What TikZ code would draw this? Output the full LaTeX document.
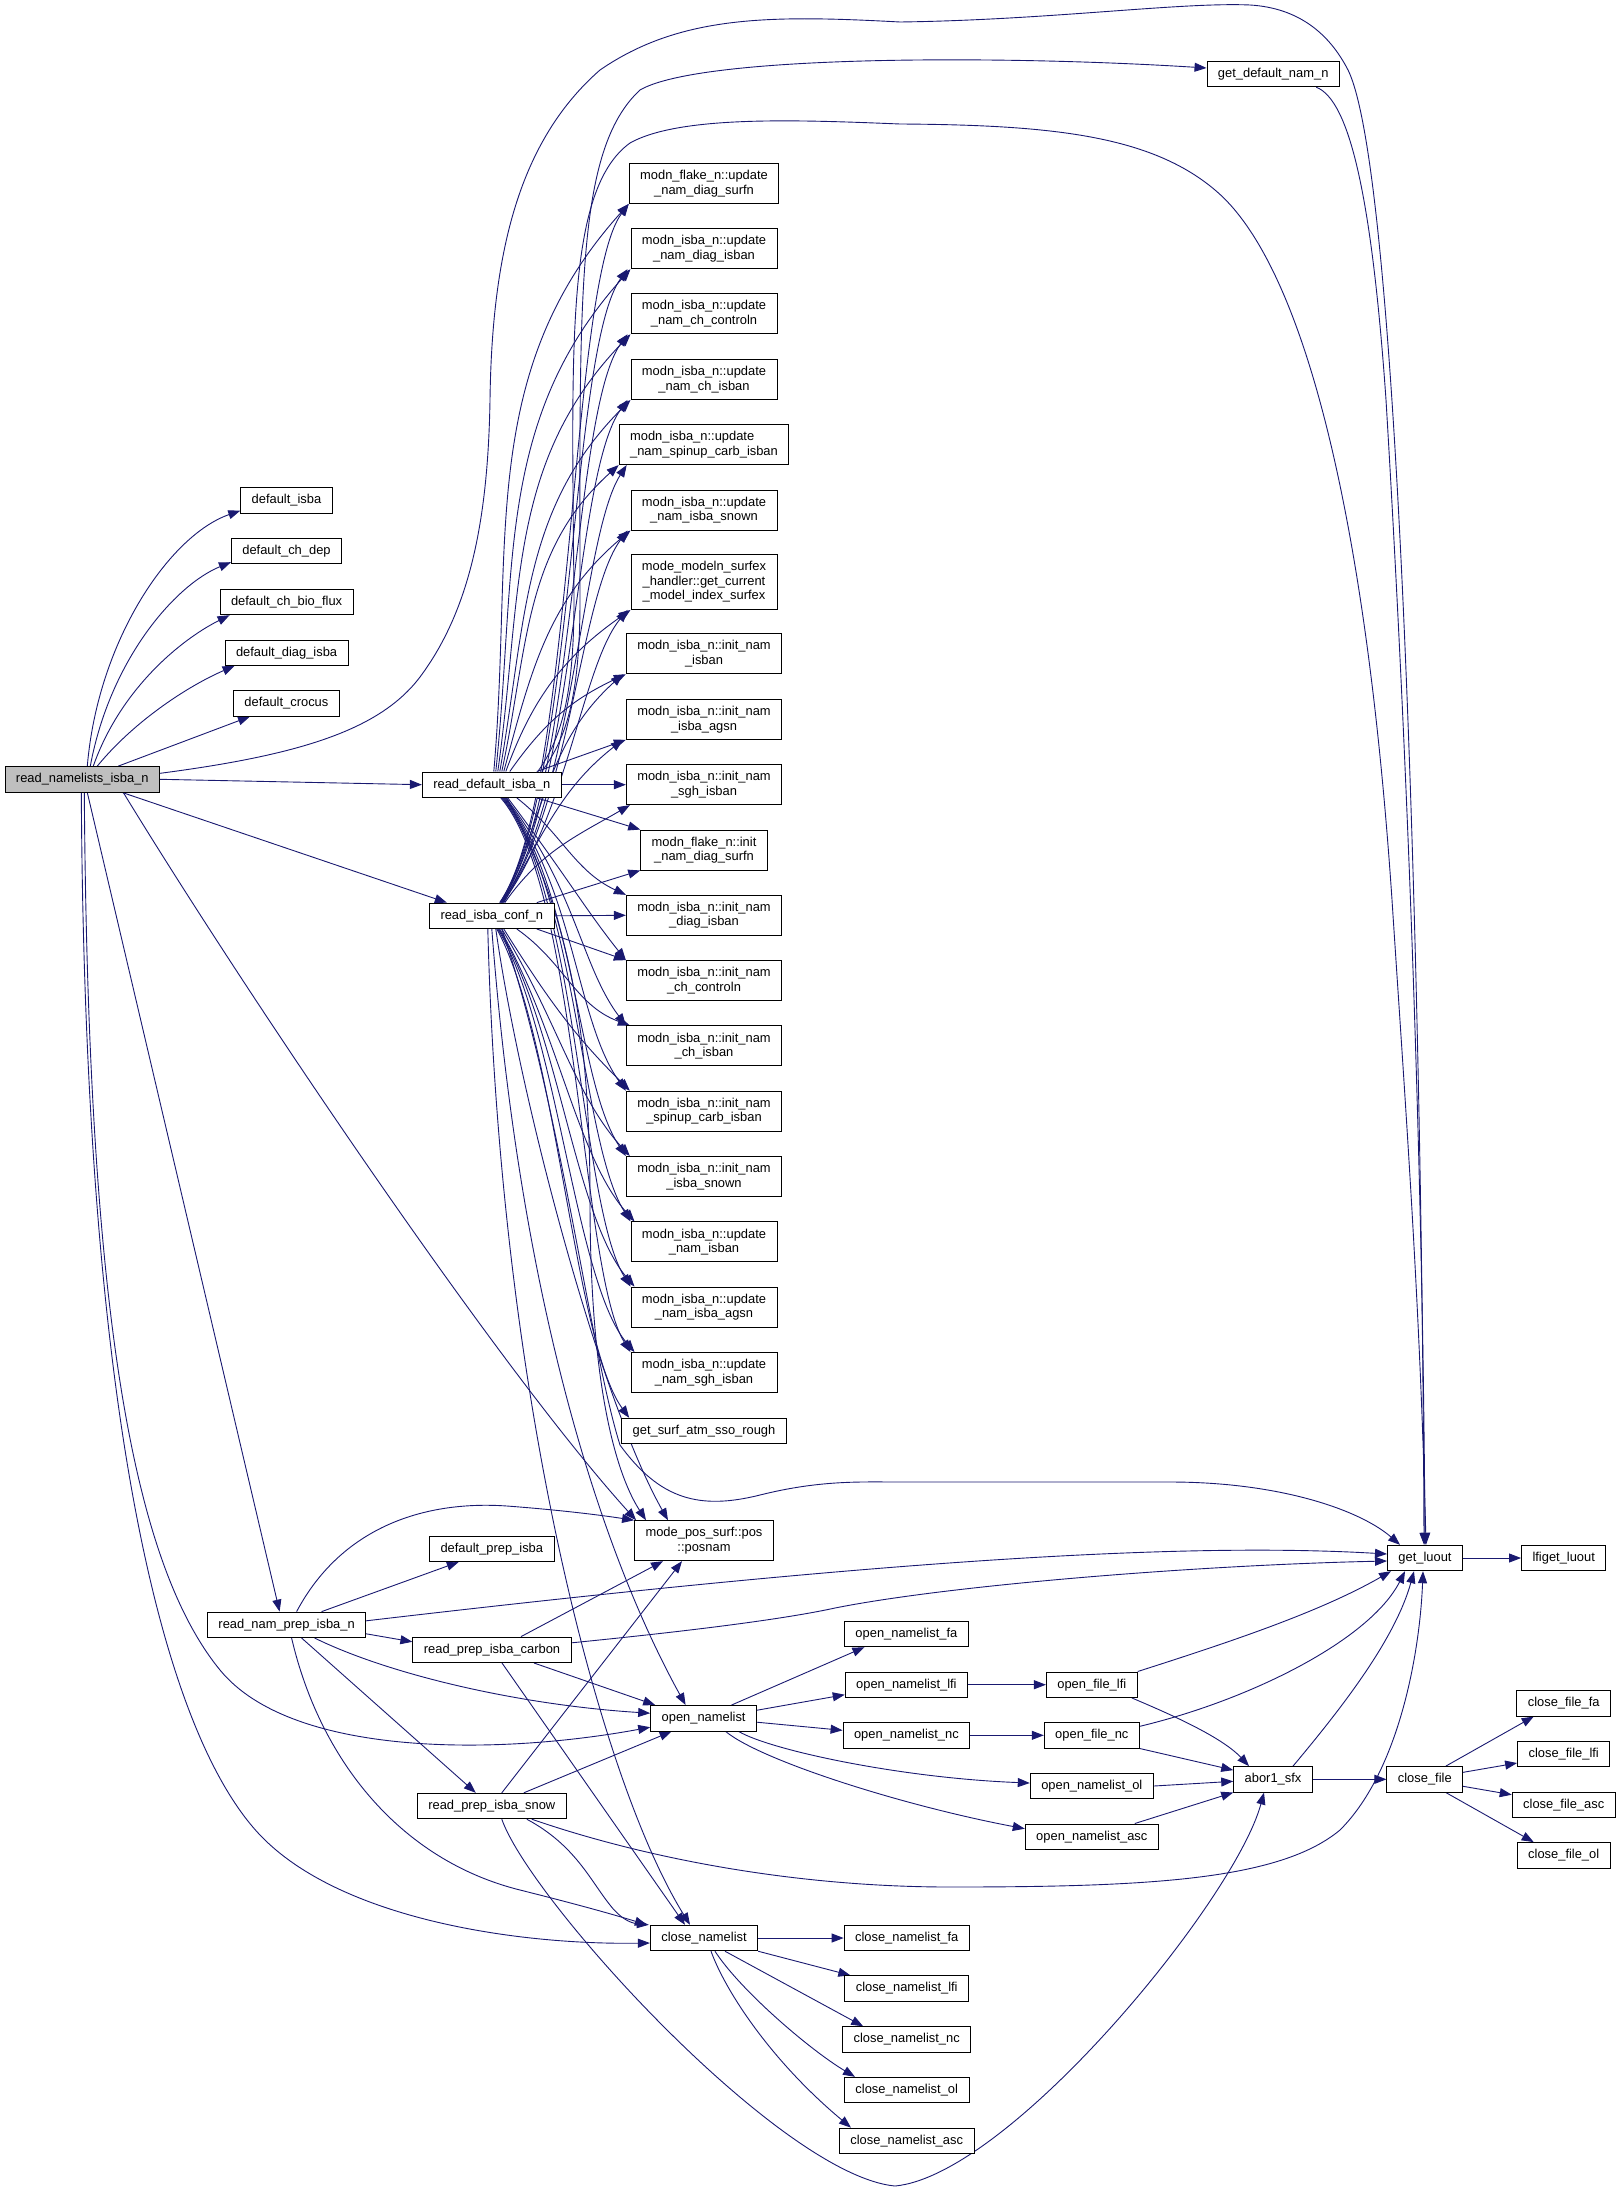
\documentclass[tikz,border=0pt]{standalone}
\usepackage{fontspec}
\setmainfont{Liberation Sans}
\usepackage{tikz}
\usetikzlibrary{arrows.meta,backgrounds}
\definecolor{edgeblue}{RGB}{25,25,112}
\definecolor{rootgray}{RGB}{191,191,191}
\tikzset{
  func/.style={draw=black, fill=white, rectangle, line width=0.9pt, font=\fontsize{12.9pt}{14.6pt}\selectfont, inner xsep=11pt, inner ysep=1pt, minimum height=25.5pt, align=center},
  func2/.style={func, minimum height=40pt},
  func3/.style={func, minimum height=55pt},
  root/.style={func, fill=rootgray},
  call/.style={draw=edgeblue, line width=0.9pt, -{Triangle[length=12pt,width=9pt]}}
}

\begin{document}
\begin{tikzpicture}[x=1pt,y=1pt]
    \useasboundingbox (0,0) rectangle (1621,-2191);

    \node[root] (rnl) at (82.3,-779.3) {read\_namelists\_isba\_n};

    \node[func] (dflt_isba) at (286.5,-500.5) {default\_isba};
    \node[func] (dflt_chdep) at (286.5,-551) {default\_ch\_dep};
    \node[func] (dflt_chbio) at (286.6,-602) {default\_ch\_bio\_flux};
    \node[func] (dflt_diag) at (286.6,-652.7) {default\_diag\_isba};
    \node[func] (dflt_crocus) at (286.4,-703.3) {default\_crocus};

    \node[func] (rdef) at (491.8,-784.7) {read\_default\_isba\_n};
    \node[func] (rconf) at (491.8,-915.8) {read\_isba\_conf\_n};
    \node[func] (gdnam) at (1273.2,-74) {get\_default\_nam\_n};

    \node[func2] (upd_diagsurf) at (704,-183.5) {modn\_flake\_n::update\\\_nam\_diag\_surfn};
    \node[func2] (upd_diag) at (704,-248.7) {modn\_isba\_n::update\\\_nam\_diag\_isban};
    \node[func2] (upd_chctrl) at (704,-313.8) {modn\_isba\_n::update\\\_nam\_ch\_controln};
    \node[func2] (upd_ch) at (704,-379.5) {modn\_isba\_n::update\\\_nam\_ch\_isban};
    \node[func2, align=left] (upd_spinup) at (704,-444.6) {modn\_isba\_n::update\\\_nam\_spinup\_carb\_isban};
    \node[func2] (upd_snow) at (704,-510) {modn\_isba\_n::update\\\_nam\_isba\_snown};
    \node[func3] (curidx) at (704,-582) {mode\_modeln\_surfex\\\_handler::get\_current\\\_model\_index\_surfex};
    \node[func2] (ini_isba) at (704,-653.8) {modn\_isba\_n::init\_nam\\\_isban};
    \node[func2] (ini_agsn) at (704,-719.4) {modn\_isba\_n::init\_nam\\\_isba\_agsn};
    \node[func2] (ini_sgh) at (704,-784.7) {modn\_isba\_n::init\_nam\\\_sgh\_isban};
    \node[func2] (ini_diagsurf) at (704,-850) {modn\_flake\_n::init\\\_nam\_diag\_surfn};
    \node[func2] (ini_diag) at (704,-915.3) {modn\_isba\_n::init\_nam\\\_diag\_isban};
    \node[func2] (ini_chctrl) at (704,-980.6) {modn\_isba\_n::init\_nam\\\_ch\_controln};
    \node[func2] (ini_ch) at (704,-1045.9) {modn\_isba\_n::init\_nam\\\_ch\_isban};
    \node[func2] (ini_spinup) at (704,-1111.2) {modn\_isba\_n::init\_nam\\\_spinup\_carb\_isban};
    \node[func2] (ini_snow) at (704,-1176.5) {modn\_isba\_n::init\_nam\\\_isba\_snown};
    \node[func2] (upd_isba) at (704,-1241.9) {modn\_isba\_n::update\\\_nam\_isban};
    \node[func2] (upd_agsn) at (704,-1307) {modn\_isba\_n::update\\\_nam\_isba\_agsn};
    \node[func2] (upd_sgh) at (704,-1372.5) {modn\_isba\_n::update\\\_nam\_sgh\_isban};
    \node[func] (ssorough) at (704,-1431) {get\_surf\_atm\_sso\_rough};
    \node[func2] (posnam) at (704,-1540.7) {mode\_pos\_surf::pos\\::posnam};

    \node[func] (luout) at (1425,-1558) {get\_luout};
    \node[func] (lfiluout) at (1563.7,-1558) {lfiget\_luout};

    \node[func] (dprep) at (491.8,-1548.7) {default\_prep\_isba};
    \node[func] (rnprep) at (286.6,-1624.8) {read\_nam\_prep\_isba\_n};
    \node[func] (rcarb) at (492,-1649.8) {read\_prep\_isba\_carbon};
    \node[func] (rsnow) at (491.8,-1806) {read\_prep\_isba\_snow};

    \node[func] (opennl) at (703.6,-1718.2) {open\_namelist};
    \node[func] (onl_fa) at (906.4,-1634) {open\_namelist\_fa};
    \node[func] (onl_lfi) at (906.4,-1684.7) {open\_namelist\_lfi};
    \node[func] (onl_nc) at (906.4,-1735.3) {open\_namelist\_nc};
    \node[func] (ofile_lfi) at (1091.8,-1684.7) {open\_file\_lfi};
    \node[func] (ofile_nc) at (1091.8,-1735.3) {open\_file\_nc};
    \node[func] (onl_ol) at (1091.8,-1786) {open\_namelist\_ol};
    \node[func] (onl_asc) at (1091.8,-1836.7) {open\_namelist\_asc};

    \node[func] (abor) at (1273,-1779.3) {abor1\_sfx};
    \node[func] (closefile) at (1424.8,-1779.3) {close\_file};
    \node[func] (cf_fa) at (1563.7,-1703.3) {close\_file\_fa};
    \node[func] (cf_lfi) at (1563.7,-1754) {close\_file\_lfi};
    \node[func] (cf_asc) at (1563.7,-1804.7) {close\_file\_asc};
    \node[func] (cf_ol) at (1563.7,-1855.3) {close\_file\_ol};

    \node[func] (closenl) at (704,-1938) {close\_namelist};
    \node[func] (cnl_fa) at (906.7,-1938) {close\_namelist\_fa};
    \node[func] (cnl_lfi) at (906.7,-1988.5) {close\_namelist\_lfi};
    \node[func] (cnl_nc) at (906.7,-2039.5) {close\_namelist\_nc};
    \node[func] (cnl_ol) at (906.7,-2090) {close\_namelist\_ol};
    \node[func] (cnl_asc) at (906.7,-2140.8) {close\_namelist\_asc};

    \begin{scope}[on background layer]
    % read_namelists_isba_n
    \draw[call] ([xshift=5pt]rnl.north) .. controls (98,-640) and (170,-535) .. ([yshift=3pt]dflt_isba.south west);
    \draw[call] ([xshift=8pt]rnl.north) .. controls (110,-660) and (175,-585) .. ([yshift=2pt]dflt_chdep.south west);
    \draw[call] ([xshift=11pt]rnl.north) .. controls (120,-690) and (180,-640) .. ([xshift=10pt]dflt_chbio.south west);
    \draw[call] ([xshift=15pt]rnl.north) .. controls (135,-720) and (190,-685) .. ([xshift=10pt]dflt_diag.south west);
    \draw[call] ([xshift=36pt]rnl.north) -- ([xshift=17pt]dflt_crocus.south west);
    \draw[call] (rnl.east) -- (rdef.west);
    \draw[call] ([xshift=40pt]rnl.south) -- ([xshift=-45pt]rconf.north);
    \draw[call] ([xshift=41pt]rnl.south) .. controls (250,-1000) and (500,-1370) .. ([xshift=2pt]posnam.north west);
    \draw[call] ([xshift=5pt]rnl.south) -- ([xshift=-7pt]rnprep.north);
    \draw[call] ([xshift=2pt]rnl.south) .. controls (88,-1300) and (130,-1560) .. (220,-1670)
        .. controls (292,-1758) and (500,-1755) .. ([yshift=-9pt]opennl.west);
    \draw[call] ([xshift=-1pt]rnl.south) .. controls (85,-1450) and (170,-1740) .. (260,-1835)
        .. controls (341,-1920) and (520,-1945) .. ([yshift=-5pt]closenl.west);
    \draw[call] ([yshift=6pt]rnl.east) .. controls (300,-755) and (380,-730) .. (420,-677)
        .. controls (470,-610) and (488,-520) .. (490,-400)
        .. controls (492,-250) and (520,-140) .. (600,-70)
        .. controls (680,-15) and (770,-15) .. (900,-22)
        .. controls (1050,-20) and (1180,-2) .. (1250,-5)
        .. controls (1300,-8) and (1330,-35) .. (1348,-70)
        .. controls (1400,-175) and (1422,-1000) .. ([xshift=-1pt]luout.north);

    % read_default_isba_n
    \draw[call] ([xshift=50pt]rdef.north) .. controls (565,-740) and (580,-700) .. (580,-600)
        .. controls (580,-300) and (575,-150) .. (640,-90)
        .. controls (700,-55) and (1000,-55) .. ([yshift=6pt]gdnam.west);
    \draw[call] ([xshift=46pt]rdef.north) .. controls (560,-740) and (574,-700) .. (574,-600)
        .. controls (572,-350) and (565,-190) .. (630,-143)
        .. controls (680,-115) and (800,-120) .. (900,-124)
        .. controls (1050,-125) and (1150,-135) .. (1215,-190)
        .. controls (1300,-261) and (1365,-500) .. (1392,-900)
        .. controls (1405,-1100) and (1420,-1300) .. ([xshift=1pt]luout.north);
    \draw[call] ([xshift=2pt]rdef.north) to[out=85,in=228] (upd_diagsurf.south west);
    \draw[call] ([xshift=4pt]rdef.north) to[out=84,in=228] (upd_diag.south west);
    \draw[call] ([xshift=6pt]rdef.north) to[out=82,in=226] (upd_chctrl.south west);
    \draw[call] ([xshift=8pt]rdef.north) to[out=80,in=225] (upd_ch.south west);
    \draw[call] ([xshift=10pt]rdef.north) to[out=78,in=222] (upd_spinup.south west);
    \draw[call] ([xshift=12pt]rdef.north) to[out=75,in=220] (upd_snow.south west);
    \draw[call] ([xshift=14pt]rdef.north) to[out=70,in=215] (curidx.south west);
    \draw[call] ([xshift=18pt]rdef.north) to[out=55,in=205] (ini_isba.south west);
    \draw[call] ([xshift=45pt]rdef.north) -- (ini_agsn.south west);
    \draw[call] (rdef.east) -- (ini_sgh.west);
    \draw[call] ([xshift=45pt]rdef.south) -- (ini_diagsurf.north west);
    \draw[call] ([xshift=25pt]rdef.south) to[out=-38,in=155] (ini_diag.north west);
    \draw[call] ([xshift=16pt]rdef.south) .. controls +(60,-80) and +(-40,50) .. (ini_chctrl.north west);
    \draw[call] ([xshift=14pt]rdef.south) .. controls +(70,-90) and +(-45,60) .. (ini_ch.north west);
    \draw[call] ([xshift=13pt]rdef.south) .. controls +(70,-90) and +(-50,70) .. (ini_spinup.north west);
    \draw[call] ([xshift=12pt]rdef.south) .. controls +(72,-90) and +(-50,75) .. (ini_snow.north west);
    \draw[call] ([xshift=11pt]rdef.south) .. controls +(74,-90) and +(-50,80) .. (upd_isba.north west);
    \draw[call] ([xshift=10pt]rdef.south) .. controls +(76,-90) and +(-50,80) .. (upd_agsn.north west);
    \draw[call] ([xshift=9pt]rdef.south) .. controls +(78,-90) and +(-50,80) .. (upd_sgh.north west);
    \draw[call] ([xshift=15pt]rdef.south) .. controls (560,-900) and (590,-1000) .. (590,-1200)
        .. controls (590,-1400) and (620,-1480) .. ([xshift=-58pt]posnam.north);

    % read_isba_conf_n
    \draw[call] ([xshift=8pt]rconf.north) .. controls +(75,110) and +(-60,-80) .. (upd_diagsurf.south west);
    \draw[call] ([xshift=8pt]rconf.north) .. controls +(75,110) and +(-58,-80) .. ([xshift=-3pt]upd_diag.south west);
    \draw[call] ([xshift=9pt]rconf.north) .. controls +(75,110) and +(-56,-78) .. ([xshift=-3pt]upd_chctrl.south west);
    \draw[call] ([xshift=9pt]rconf.north) .. controls +(75,110) and +(-54,-75) .. ([xshift=-3pt]upd_ch.south west);
    \draw[call] ([xshift=10pt]rconf.north) .. controls +(72,105) and +(-45,-70) .. ([xshift=8pt]upd_spinup.south west);
    \draw[call] ([xshift=10pt]rconf.north) .. controls +(70,100) and +(-48,-65) .. ([xshift=-3pt]upd_snow.south west);
    \draw[call] ([xshift=11pt]rconf.north) .. controls +(65,90) and +(-45,-55) .. ([xshift=-3pt]curidx.south west);
    \draw[call] ([xshift=11pt]rconf.north) to[out=65,in=222] ([xshift=-3pt]ini_isba.south west);
    \draw[call] ([xshift=12pt]rconf.north) to[out=60,in=218] ([xshift=-3pt]ini_agsn.south west);
    \draw[call] ([xshift=13pt]rconf.north) to[out=55,in=210] ([xshift=4pt]ini_sgh.south west);
    \draw[call] ([xshift=45pt]rconf.north) -- (ini_diagsurf.south west);
    \draw[call] (rconf.east) -- (ini_diag.west);
    \draw[call] ([xshift=45pt]rconf.south) -- (ini_chctrl.north west);
    \draw[call] ([xshift=25pt]rconf.south) to[out=-35,in=160] ([xshift=4pt]ini_ch.north west);
    \draw[call] ([xshift=12pt]rconf.south) .. controls +(50,-80) and +(-50,50) .. ([xshift=4pt]ini_spinup.north west);
    \draw[call] ([xshift=10pt]rconf.south) .. controls +(55,-90) and +(-55,60) .. ([xshift=4pt]ini_snow.north west);
    \draw[call] ([xshift=8pt]rconf.south) .. controls +(58,-100) and +(-58,65) .. ([xshift=4pt]upd_isba.north west);
    \draw[call] ([xshift=7pt]rconf.south) .. controls +(60,-100) and +(-60,70) .. ([xshift=4pt]upd_agsn.north west);
    \draw[call] ([xshift=6pt]rconf.south) .. controls +(60,-100) and +(-60,70) .. ([xshift=4pt]upd_sgh.north west);
    \draw[call] ([xshift=5pt]rconf.south) .. controls +(60,-110) and +(-55,75) .. ([xshift=8pt]ssorough.north west);
    \draw[call] ([xshift=4pt]rconf.south) .. controls (520,-1100) and (600,-1400) .. ([xshift=-36pt]posnam.north);
    \draw[call] ([xshift=10pt]rconf.south) .. controls (560,-1100) and (590,-1350) .. (620,-1445)
        .. controls (660,-1500) and (700,-1510) .. (760,-1495)
        .. controls (820,-1480) and (860,-1482) .. (900,-1482) -- (1170,-1482)
        .. controls (1280,-1482) and (1360,-1510) .. ([xshift=-25pt]luout.north);
    \draw[call] (rconf.south) .. controls (520,-1300) and (600,-1550) .. ([xshift=-18pt]opennl.north);
    \draw[call] ([xshift=-4pt]rconf.south) .. controls (500,-1400) and (600,-1780) .. ([xshift=-14pt]closenl.north);

    % get_default_nam_n, get_luout
    \draw[call] ([xshift=43pt]gdnam.south) .. controls (1350,-100) and (1372,-200) .. (1386,-400)
        .. controls (1410,-800) and (1423,-1200) .. (luout.north);
    \draw[call] (luout.east) -- (lfiluout.west);

    % read_nam_prep_isba_n
    \draw[call] ([xshift=10pt]rnprep.north) .. controls (340,-1530) and (420,-1500) .. (507,-1506)
        .. controls (560,-1510) and (600,-1515) .. (posnam.north west);
    \draw[call] ([xshift=35pt]rnprep.north) -- ([xshift=-33pt]dprep.south);
    \draw[call] ([yshift=4pt]rnprep.east) .. controls (800,-1570) and (1150,-1540) .. ([yshift=4pt]luout.west);
    \draw[call] ([yshift=-9pt]rnprep.east) -- ([yshift=8pt]rcarb.west);
    \draw[call] ([xshift=28pt]rnprep.south) .. controls (390,-1675) and (520,-1705) .. ([yshift=5pt]opennl.west);
    \draw[call] ([xshift=15pt]rnprep.south) -- ([xshift=-16pt]rsnow.north);
    \draw[call] ([xshift=5pt]rnprep.south) .. controls (320,-1760) and (400,-1860) .. (520,-1890)
        .. controls (580,-1905) and (615,-1915) .. ([xshift=-3pt]closenl.north west);

    % read_prep_isba_carbon
    \draw[call] ([xshift=29pt]rcarb.north) -- ([xshift=-41pt]posnam.south);
    \draw[call] ([yshift=7pt]rcarb.east) .. controls (680,-1632) and (780,-1620) .. (835,-1608)
        .. controls (950,-1585) and (1200,-1565) .. ([yshift=-3pt]luout.west);
    \draw[call] ([xshift=42pt]rcarb.south) -- ([xshift=5pt]opennl.north west);
    \draw[call] ([xshift=10pt]rcarb.south) -- ([xshift=-19pt]closenl.north);

    % read_prep_isba_snow
    \draw[call] ([xshift=10pt]rsnow.north) -- ([xshift=-22pt]posnam.south);
    \draw[call] ([xshift=32pt]rsnow.north) -- ([xshift=-32pt]opennl.south);
    \draw[call] ([xshift=40pt]rsnow.south) .. controls (650,-1860) and (800,-1887) .. (950,-1887)
        .. controls (1150,-1887) and (1280,-1880) .. (1340,-1830)
        .. controls (1400,-1770) and (1420,-1650) .. ([xshift=-2pt]luout.south);
    \draw[call] ([xshift=35pt]rsnow.south) .. controls (575,-1845) and (590,-1880) .. (610,-1905)
        .. controls (620,-1918) and (630,-1923) .. ([xshift=-1pt]closenl.north west);
    \draw[call] ([xshift=10pt]rsnow.south) .. controls (530,-1900) and (780,-2175) .. (895,-2186)
        .. controls (1010,-2175) and (1235,-1900) .. ([xshift=-9pt]abor.south);

    % open_namelist
    \draw[call] ([xshift=28pt]opennl.north) -- ([xshift=-42pt]onl_fa.south);
    \draw[call] ([yshift=8pt]opennl.east) -- ([yshift=-10pt]onl_lfi.west);
    \draw[call] ([yshift=-4pt]opennl.east) -- ([yshift=5pt]onl_nc.west);
    \draw[call] ([xshift=35pt]opennl.south) .. controls (770,-1750) and (900,-1778) .. ([yshift=3pt]onl_ol.west);
    \draw[call] ([xshift=22pt]opennl.south) .. controls (760,-1760) and (900,-1805) .. ([yshift=8pt]onl_asc.west);
    \draw[call] (onl_lfi.east) -- (ofile_lfi.west);
    \draw[call] (onl_nc.east) -- (ofile_nc.west);
    \draw[call] (onl_ol.east) -- ([yshift=-2pt]abor.west);
    \draw[call] ([xshift=43pt]onl_asc.north) -- (abor.south west);

    % open_file_*, abor1_sfx
    \draw[call] ([xshift=40pt]ofile_lfi.south) .. controls (1160,-1710) and (1220,-1735) .. ([xshift=-24pt]abor.north);
    \draw[call] (ofile_lfi.north east) .. controls (1230,-1642) and (1320,-1612) .. ([xshift=4pt]luout.south west);
    \draw[call] (ofile_nc.south east) -- ([yshift=-4pt]abor.north west);
    \draw[call] ([yshift=9pt]ofile_nc.east) .. controls (1250,-1700) and (1370,-1640) .. ([xshift=-20pt]luout.south);
    \draw[call] ([xshift=20pt]abor.north) .. controls (1340,-1710) and (1395,-1640) .. ([xshift=-11pt]luout.south);
    \draw[call] (abor.east) -- (closefile.west);

    % close_file
    \draw[call] ([xshift=21pt]closefile.north) -- ([xshift=-30pt]cf_fa.south);
    \draw[call] ([yshift=7pt]closefile.east) -- ([yshift=-9pt]cf_lfi.west);
    \draw[call] ([yshift=-7pt]closefile.east) -- ([yshift=10pt]cf_asc.west);
    \draw[call] ([xshift=21pt]closefile.south) -- ([xshift=-30pt]cf_ol.north);

    % close_namelist
    \draw[call] (closenl.east) -- (cnl_fa.west);
    \draw[call] (closenl.south east) -- ([xshift=6pt]cnl_lfi.north west);
    \draw[call] ([xshift=21pt]closenl.south) -- ([xshift=21pt]cnl_nc.north west);
    \draw[call] ([xshift=11pt]closenl.south) .. controls (740,-1990) and (810,-2050) .. ([xshift=11pt]cnl_ol.north west);
    \draw[call] ([xshift=7pt]closenl.south) .. controls (725,-1990) and (770,-2060) .. ([xshift=12pt]cnl_asc.north west);
    \end{scope}
\end{tikzpicture}
\end{document}
